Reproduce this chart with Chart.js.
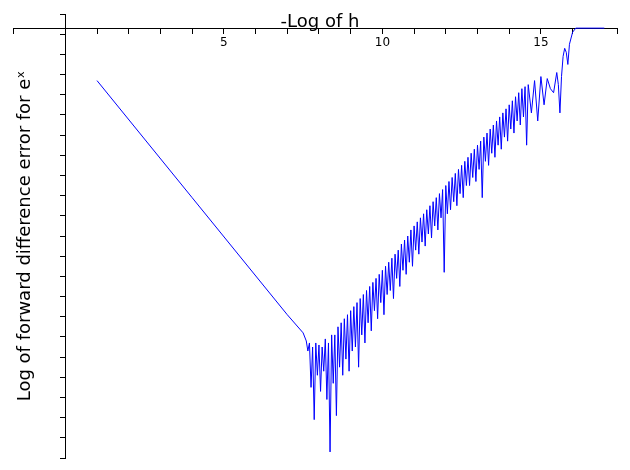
<!DOCTYPE html>
<html>
<head>
<meta charset="utf-8">
<script src="https://cdn.jsdelivr.net/npm/chart.js@4"></script>
<style>
  body { margin: 0; background: #fff; }
  #wrap { width: 630px; height: 470px; }
</style>
</head>
<body>
<div id="wrap"><canvas id="chart" width="630" height="470" style="width:630px;height:470px"></canvas></div>
<script>
// -log10(h) values
const xs = [1.0, 4.0, 7.0, 7.5, 7.6, 7.65, 7.7, 7.75, 7.8, 7.85, 7.9, 7.95, 8.0, 8.05, 8.1, 8.15, 8.2, 8.25, 8.3, 8.35, 8.4, 8.45, 8.5, 8.55, 8.6, 8.65, 8.7, 8.75, 8.8, 8.85, 8.9, 8.95, 9.0, 9.05, 9.1, 9.15, 9.2, 9.25, 9.3, 9.35, 9.4, 9.45, 9.5, 9.55, 9.6, 9.65, 9.7, 9.75, 9.8, 9.85, 9.9, 9.95, 10.0, 10.05, 10.1, 10.15, 10.2, 10.25, 10.3, 10.35, 10.4, 10.45, 10.5, 10.55, 10.6, 10.65, 10.7, 10.75, 10.8, 10.85, 10.9, 10.95, 11.0, 11.05, 11.1, 11.15, 11.2, 11.25, 11.3, 11.35, 11.4, 11.45, 11.5, 11.55, 11.6, 11.65, 11.7, 11.75, 11.8, 11.85, 11.9, 11.95, 12.0, 12.05, 12.1, 12.15, 12.2, 12.25, 12.3, 12.35, 12.4, 12.45, 12.5, 12.55, 12.6, 12.65, 12.7, 12.75, 12.8, 12.85, 12.9, 12.95, 13.0, 13.05, 13.1, 13.15, 13.2, 13.25, 13.3, 13.35, 13.4, 13.45, 13.5, 13.55, 13.6, 13.65, 13.7, 13.75, 13.8, 13.85, 13.9, 13.95, 14.0, 14.05, 14.1, 14.15, 14.2, 14.25, 14.3, 14.35, 14.4, 14.45, 14.5, 14.55, 14.6, 14.7, 14.8, 14.9, 15.0, 15.1, 15.2, 15.3, 15.4, 15.5, 15.55, 15.6, 15.65, 15.7, 15.75, 15.8, 15.85, 15.9, 16.0, 16.1, 16.2, 17.0];
// log10 of forward difference error
const errs = [-1.3, -4.2, -7.1, -7.55, -7.75, -8.0, -7.8, -8.9, -7.9, -9.7, -7.8, -8.6, -7.85, -9.0, -7.9, -8.5, -7.7, -9.2, -7.8, -10.5, -7.6, -8.8, -7.6, -9.6, -7.4, -8.4, -7.3, -8.6, -7.2, -8.2, -7.1, -8.5, -7.0, -8.0, -6.9, -7.9, -6.8, -8.4, -6.7, -7.6, -6.6, -7.8, -6.5, -7.3, -6.4, -7.5, -6.3, -7.0, -6.2, -7.2, -6.1, -6.8, -6.0, -7.1, -5.9, -6.6, -5.8, -6.5, -5.7, -6.7, -5.6, -6.2, -5.5, -6.4, -5.35, -6.0, -5.25, -6.1, -5.15, -5.8, -5.0, -5.9, -4.9, -5.5, -4.8, -5.6, -4.7, -5.3, -4.6, -5.4, -4.5, -5.1, -4.4, -5.2, -4.3, -4.9, -4.2, -5.0, -4.1, -4.7, -4.0, -6.05, -3.9, -4.6, -3.8, -4.5, -3.7, -4.3, -3.6, -4.4, -3.5, -4.1, -3.4, -4.2, -3.3, -3.9, -3.2, -3.9, -3.1, -3.7, -3.0, -3.8, -2.9, -3.5, -2.8, -4.2, -2.7, -3.3, -2.6, -3.4, -2.5, -3.1, -2.4, -3.2, -2.3, -2.9, -2.2, -3.0, -2.1, -2.7, -2.0, -2.8, -1.9, -2.5, -1.8, -2.6, -1.7, -2.3, -1.6, -2.4, -1.5, -2.2, -1.45, -2.9, -1.4, -2.1, -1.3, -2.3, -1.2, -1.9, -1.25, -1.5, -1.6, -1.1, -1.4, -2.1, -1.2, -0.7, -0.5, -0.6, -0.9, -0.4, -0.1, 0, 0, 0];

const titleText = "-Log of h";
const yTitleText = "Log of forward difference error for eˣ";

const points = xs.map((x, i) => ({ x: x, y: errs[i] }));

const titles = {
  id: "titles",
  afterDraw(chart) {
    const ctx = chart.ctx;
    ctx.save();
    ctx.fillStyle = "#000";
    ctx.font = "18px 'DejaVu Sans'";
    ctx.textAlign = "center";
    ctx.textBaseline = "middle";
    ctx.fillText(titleText, 320, 22);
    ctx.translate(25, 236);
    ctx.rotate(-Math.PI / 2);
    ctx.fillText(yTitleText, 0, 0);
    ctx.restore();
  }
};

new Chart(document.getElementById("chart"), {
  type: "scatter",
  data: {
    datasets: [{
      data: points,
      showLine: true,
      borderColor: "#0000ff",
      borderWidth: 1,
      pointRadius: 0,
      tension: 0
    }]
  },
  options: {
    responsive: false,
    animation: false,
    devicePixelRatio: 1,
    layout: { padding: { left: 13, right: 13, top: 14, bottom: 12 } },
    plugins: { legend: { display: false }, tooltip: { enabled: false } },
    scales: {
      x: {
        type: "linear",
        position: { y: 0 },
        min: -1.65,
        max: 17.4,
        grid: { drawOnChartArea: false, color: "#000", tickLength: 5 },
        border: { color: "#000" },
        ticks: {
          stepSize: 1,
          color: "#000",
          font: { family: "DejaVu Sans", size: 12 },
          autoSkip: false,
          maxRotation: 0,
          callback: v => (v > 0 && v % 5 === 0) ? String(v) : ""
        }
      },
      y: {
        type: "linear",
        position: { x: 0 },
        min: -10.65,
        max: 0.35,
        grid: { drawOnChartArea: false, color: "#000", tickLength: 5 },
        border: { color: "#000" },
        ticks: {
          stepSize: 0.5,
          color: "#000",
          font: { family: "DejaVu Sans", size: 12 },
          autoSkip: false,
          callback: v => (v < 0 && v % 2 === 0) ? String(v) : ""
        }
      }
    }
  },
  plugins: [titles]
});
</script>
</body>
</html>
